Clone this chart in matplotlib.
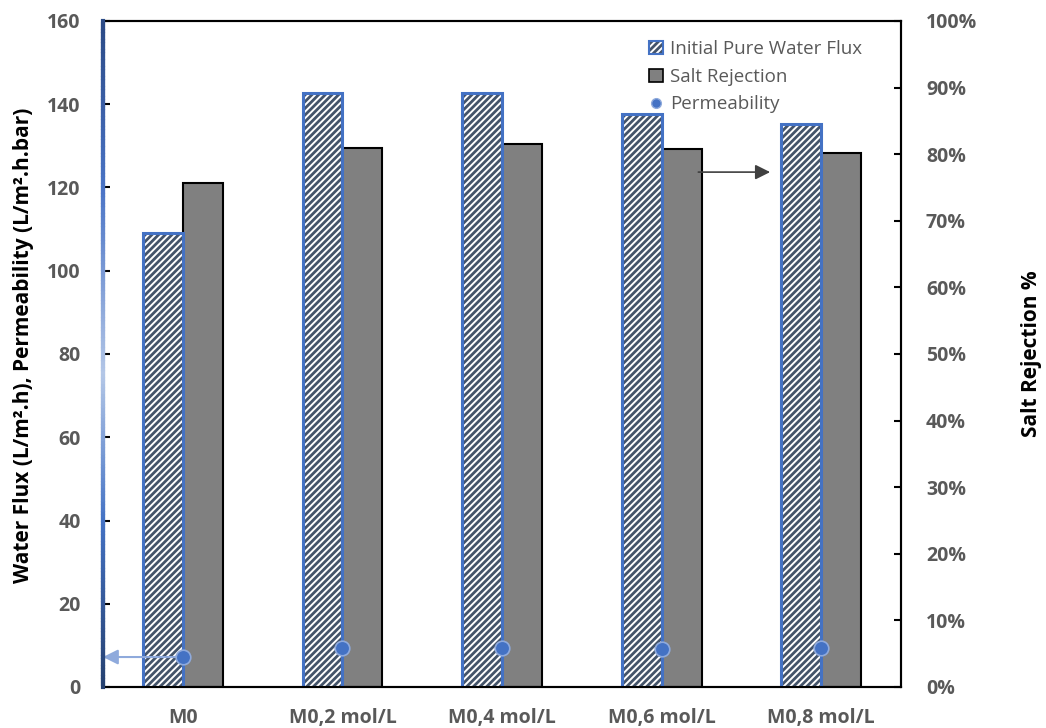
"""Membrane performance: water flux, salt rejection and permeability per sample."""
import numpy as np
import matplotlib
matplotlib.use("Agg")
import matplotlib.pyplot as plt
from matplotlib.collections import LineCollection
from matplotlib.colors import LinearSegmentedColormap
from matplotlib.patches import Patch
from matplotlib.lines import Line2D
from matplotlib.legend_handler import HandlerTuple
from matplotlib.ticker import FuncFormatter

plt.rcParams["font.family"] = ["Open Sans", "DejaVu Sans"]
plt.rcParams["hatch.linewidth"] = 2.0

# data
samples = ["M0", "M0,2 mol/L", "M0,4 mol/L", "M0,6 mol/L", "M0,8 mol/L"]
water_flux = [109.1, 142.8, 142.7, 137.7, 135.3]      # L/m2.h
salt_rejection = [75.7, 81.0, 81.5, 80.8, 80.2]       # %
permeability = [7.2, 9.4, 9.4, 9.2, 9.3]              # L/m2.h.bar

GRAY_TXT = "#595959"
BLUE = "#4472C4"
HATCH = "#44546A"

x = np.arange(len(samples))
w = 0.25

fig = plt.figure(figsize=(10.46, 7.28), dpi=100)
ax = fig.add_axes([103 / 1046, 1 - 687 / 728, 798 / 1046, 666 / 728])
ax2 = ax.twinx()
ax.set_zorder(ax2.get_zorder() + 1)
ax.patch.set_visible(False)

# salt rejection on the right axis
ax2.bar(x + w / 2, salt_rejection, width=w, color="#808080",
        edgecolor="black", linewidth=1.5)
ax2.set_ylim(0, 100)
ax2.set_yticks(np.arange(0, 101, 10))
ax2.yaxis.set_major_formatter(FuncFormatter(lambda v, p: f"{v:.0f}%"))

# flux bars: hatched body + blue outline
ax.bar(x - w / 2, water_flux, width=w, color="white", edgecolor=HATCH,
       hatch="/////", linewidth=0)
ax.bar(x - w / 2, water_flux, width=w, fill=False, edgecolor=BLUE,
       linewidth=2.2)

# permeability dots
ax.scatter(x, permeability, s=110, color=BLUE, edgecolor="#8FAADC",
           linewidth=1.2, zorder=5)

ax.set_xlim(-0.5, len(samples) - 0.5)
ax.set_ylim(0, 160)
ax.set_yticks(np.arange(0, 161, 20))
ax.set_xticks(x)
ax.set_xticklabels(samples)

# arrows pointing to the relevant axes
ax.annotate("", xy=(-0.5, permeability[0]), xytext=(-0.02, permeability[0]),
            arrowprops=dict(arrowstyle="-|>,head_length=0.9,head_width=0.45",
                            color="#8FAADC", lw=1.5, shrinkA=0, shrinkB=0),
            annotation_clip=False)
ax.annotate("", xy=(3.68, 123.7), xytext=(3.23, 123.7),
            arrowprops=dict(arrowstyle="-|>,head_length=0.9,head_width=0.45",
                            color="#404040", lw=1.2, shrinkA=0, shrinkB=0))

# spines and ticks
for a in (ax, ax2):
    for s in ("top", "right", "bottom"):
        a.spines[s].set_color("black")
        a.spines[s].set_linewidth(1.5)
ax.spines["left"].set_visible(False)
ax2.spines["left"].set_visible(False)

ax.tick_params(axis="x", length=0, pad=15, labelsize=14, labelcolor=GRAY_TXT)
ax.tick_params(axis="y", direction="in", length=5, width=1.5,
               labelsize=14, labelcolor=GRAY_TXT, pad=16)
ax2.tick_params(axis="y", direction="in", length=5, width=1.5, color="black",
                labelsize=14, labelcolor=GRAY_TXT, pad=18)
for lab in ax.get_xticklabels() + ax.get_yticklabels() + ax2.get_yticklabels():
    lab.set_fontweight("bold")

# gradient left spine
cmap = LinearSegmentedColormap.from_list(
    "spine", [(0, "#25406F"), (0.25, "#4472C4"), (0.47, "#B4C7E7"),
              (0.75, "#4A74C6"), (1, "#2B4A86")])
yy = np.linspace(0, 1, 200)
segs = [[(0, yy[i]), (0, yy[i + 1])] for i in range(len(yy) - 1)]
lc = LineCollection(segs, colors=cmap(yy[:-1]), linewidths=3,
                    transform=ax.transAxes, zorder=6, capstyle="projecting")
ax.add_collection(lc, autolim=False)
lc.set_clip_on(False)
for tick, val in zip(ax.yaxis.get_major_ticks(), ax.get_yticks()):
    tick.tick1line.set_color(cmap(val / 160))

# axis titles
fig.text(24 / 1046, 1 - 345 / 728,
         "Water Flux (L/m\u00b2.h), Permeability (L/m\u00b2.h.bar)",
         rotation=90, ha="center", va="center", fontsize=15,
         fontweight="bold", color="black")
fig.text(1032 / 1046, 1 - 354 / 728, "Salt Rejection %", rotation=90,
         ha="center", va="center", fontsize=15, fontweight="bold",
         color="black")

# legend
flux_handle = (Patch(facecolor="white", edgecolor=HATCH, hatch="/////", linewidth=0),
               Patch(fill=False, edgecolor=BLUE, linewidth=1.5))
handles = [
    flux_handle,
    Patch(facecolor="#808080", edgecolor="black", linewidth=1.2),
    Line2D([], [], marker="o", linestyle="none", markersize=7,
           markerfacecolor=BLUE, markeredgecolor="#8FAADC"),
]
leg = fig.legend(handles, ["Initial Pure Water Flux", "Salt Rejection", "Permeability"],
                 loc="upper left", bbox_to_anchor=(640 / 1046, 1 - 31 / 728),
                 frameon=False, fontsize=13.5, handlelength=0.7, handleheight=0.7,
                 handletextpad=0.4, labelspacing=0.5, borderpad=0,
                 handler_map={tuple: HandlerTuple(ndivide=1, pad=0)})
for t in leg.get_texts():
    t.set_color(GRAY_TXT)

fig.savefig("out.png", dpi=100)
